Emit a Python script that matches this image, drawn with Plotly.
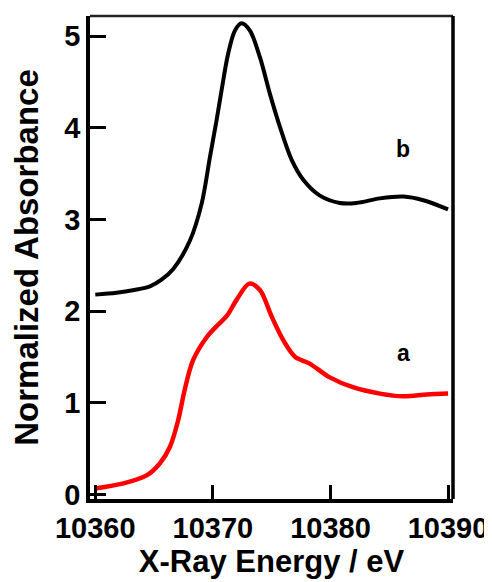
import plotly.graph_objects as go

# Spectrum b (black)
b_energy = [10360.0, 10361.8, 10363.3, 10364.65, 10365.6, 10366.63, 10368.05, 10369.04, 10369.75,
            10370.31, 10370.74, 10371.30, 10371.87, 10372.44, 10373.15, 10374.0, 10374.85,
            10375.7, 10376.7, 10377.7, 10379.1, 10380.8, 10382.2, 10384.2, 10386.2, 10387.9,
            10390.0]
b_abs = [2.18, 2.20, 2.23, 2.27, 2.34, 2.46, 2.77, 3.17, 3.68,
         4.08, 4.41, 4.81, 5.06, 5.14, 5.06, 4.77, 4.37,
         4.01, 3.65, 3.43, 3.26, 3.18, 3.18, 3.23, 3.25, 3.21,
         3.11]

# Spectrum a (red)
a_energy = [10360.0, 10362.4, 10364.4, 10365.5, 10366.35, 10367.05, 10367.6, 10368.3, 10369.5,
            10370.2, 10371.2, 10372.0, 10373.1, 10374.0, 10375.0, 10376.0, 10377.0, 10378.2,
            10379.9, 10381.9, 10384.2, 10386.2, 10388.2, 10390.0]
a_abs = [0.065, 0.12, 0.21, 0.34, 0.52, 0.81, 1.14, 1.46, 1.72,
         1.82, 1.95, 2.12, 2.30, 2.23, 1.94, 1.68, 1.50, 1.43,
         1.28, 1.17, 1.10, 1.07, 1.09, 1.10]

x_ticks = [10360, 10370, 10380, 10390]
y_ticks = [0, 1, 2, 3, 4, 5]

FONT = "Liberation Sans, Arial, sans-serif"

fig = go.Figure()
fig.add_trace(go.Scatter(x=b_energy, y=b_abs, mode="lines",
                         line=dict(color="black", width=4, shape="spline", smoothing=0.9)))
fig.add_trace(go.Scatter(x=a_energy, y=a_abs, mode="lines",
                         line=dict(color="#ff0000", width=4.5, shape="spline", smoothing=0.9)))

fig.add_annotation(x=10386.2, y=3.77, text="<b>b</b>", showarrow=False,
                   font=dict(family=FONT, size=23, color="black"))
fig.add_annotation(x=10386.2, y=1.54, text="<b>a</b>", showarrow=False,
                   font=dict(family=FONT, size=23, color="black"))

# top and right frame lines
fig.add_shape(type="line", xref="paper", yref="paper", x0=0, x1=1, y0=1, y1=1,
              line=dict(color="#222", width=2.5))
fig.add_shape(type="line", xref="paper", yref="paper", x0=1, x1=1, y0=0, y1=1,
              line=dict(color="black", width=3.5))

# page body has an 8px default margin, so the figure is sized/offset to compensate
fig.update_layout(
    width=484, height=574,
    margin=dict(l=82, r=39, t=8, b=83),
    paper_bgcolor="white", plot_bgcolor="white",
    showlegend=False,
    font=dict(family=FONT, color="black"),
    xaxis=dict(range=[10359.55, 10390.42], tickvals=x_ticks,
               ticktext=[f"<b>{v}</b>" for v in x_ticks],
               ticks="inside", ticklen=14, tickwidth=3, tickcolor="black",
               showline=True, linewidth=3.5, linecolor="black", showgrid=False, zeroline=False,
               automargin=False,
               tickfont=dict(family=FONT, size=29, color="black"),
               title=dict(text="<b>X-Ray Energy / eV</b>", font=dict(family=FONT, size=31), standoff=2)),
    yaxis=dict(range=[-0.05, 5.22], tickvals=y_ticks,
               ticktext=[f"<b>{v}</b>" for v in y_ticks],
               ticks="inside", ticklen=16, tickwidth=3, tickcolor="black",
               showline=True, linewidth=3.5, linecolor="black", showgrid=False, zeroline=False,
               automargin=False,
               tickfont=dict(family=FONT, size=29, color="black"),
               title=dict(text="<b>Normalized Absorbance</b>", font=dict(family=FONT, size=33), standoff=20)),
)

fig.write_html("out.html")
